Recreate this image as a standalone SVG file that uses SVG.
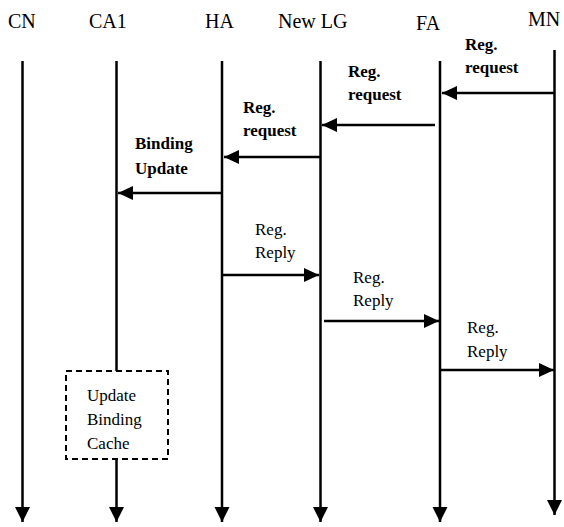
<svg xmlns="http://www.w3.org/2000/svg" width="564" height="527" viewBox="0 0 564 527">
  <style>
    .life { stroke: #000; stroke-width: 2.5; fill: none; }
    .msg { stroke: #000; stroke-width: 2.5; fill: none; marker-end: url(#head); }
    .end { marker-end: url(#down); }
    .name { font-family: "Liberation Serif", "Times New Roman", serif; font-size: 20px; fill: #000; }
    .bold { font-family: "Liberation Serif", "Times New Roman", serif; font-size: 17px; font-weight: bold; fill: #000; }
    .reg { font-family: "Liberation Serif", "Times New Roman", serif; font-size: 17px; fill: #000; }
    .box { fill: #fff; stroke: #000; stroke-width: 2; stroke-dasharray: 6 4; }
  </style>
  <defs>
    <marker id="head" markerUnits="userSpaceOnUse" markerWidth="16" markerHeight="14" refX="15" refY="7" orient="auto">
      <path d="M0,0 L15,7 L0,14 Z" fill="#000"/>
    </marker>
    <marker id="down" markerUnits="userSpaceOnUse" markerWidth="16" markerHeight="16" refX="15" refY="7.5" orient="auto">
      <path d="M0,0 L15,7.5 L0,15 Z" fill="#000"/>
    </marker>
  </defs>

  <g id="node-cn">
    <text class="name" x="8" y="28">CN</text>
    <path class="life end" d="M22.5,61 V522"/>
  </g>
  <g id="node-ca1">
    <text class="name" x="89" y="28">CA1</text>
    <path class="life" d="M116.5,61 V371"/>
    <path class="life end" d="M116.5,459 V522"/>
  </g>
  <g id="node-ha">
    <text class="name" x="205" y="28">HA</text>
    <path class="life end" d="M222,61 V522"/>
  </g>
  <g id="node-newlg">
    <text class="name" x="278" y="28">New LG</text>
    <path class="life end" d="M320.5,61 V522"/>
  </g>
  <g id="node-fa">
    <text class="name" x="416" y="30">FA</text>
    <path class="life end" d="M440,61 V522"/>
  </g>
  <g id="node-mn">
    <text class="name" x="528" y="26">MN</text>
    <path class="life end" d="M554.5,50 V515"/>
  </g>

  <g id="node-cache">
    <rect class="box" x="66" y="371" width="102" height="88"/>
    <text class="reg" x="87" y="401">Update</text>
    <text class="reg" x="87" y="425">Binding</text>
    <text class="reg" x="87" y="449">Cache</text>
  </g>

  <g id="connectors">
    <path class="msg" d="M554,93 H442"/>
    <text class="bold" x="465" y="50">Reg.</text>
    <text class="bold" x="465" y="73">request</text>

    <path class="msg" d="M435,125 H322"/>
    <text class="bold" x="348" y="77">Reg.</text>
    <text class="bold" x="348" y="100">request</text>

    <path class="msg" d="M320,157 H224"/>
    <text class="bold" x="243" y="113">Reg.</text>
    <text class="bold" x="243" y="136">request</text>

    <path class="msg" d="M222,193 H118"/>
    <text class="bold" x="135" y="149">Binding</text>
    <text class="bold" x="135" y="174">Update</text>

    <path class="msg" d="M222,275 H319"/>
    <text class="reg" x="255" y="235">Reg.</text>
    <text class="reg" x="255" y="258">Reply</text>

    <path class="msg" d="M324,321 H439"/>
    <text class="reg" x="353" y="283">Reg.</text>
    <text class="reg" x="353" y="306">Reply</text>

    <path class="msg" d="M440,370 H554"/>
    <text class="reg" x="467" y="333">Reg.</text>
    <text class="reg" x="467" y="357">Reply</text>
  </g>
</svg>
